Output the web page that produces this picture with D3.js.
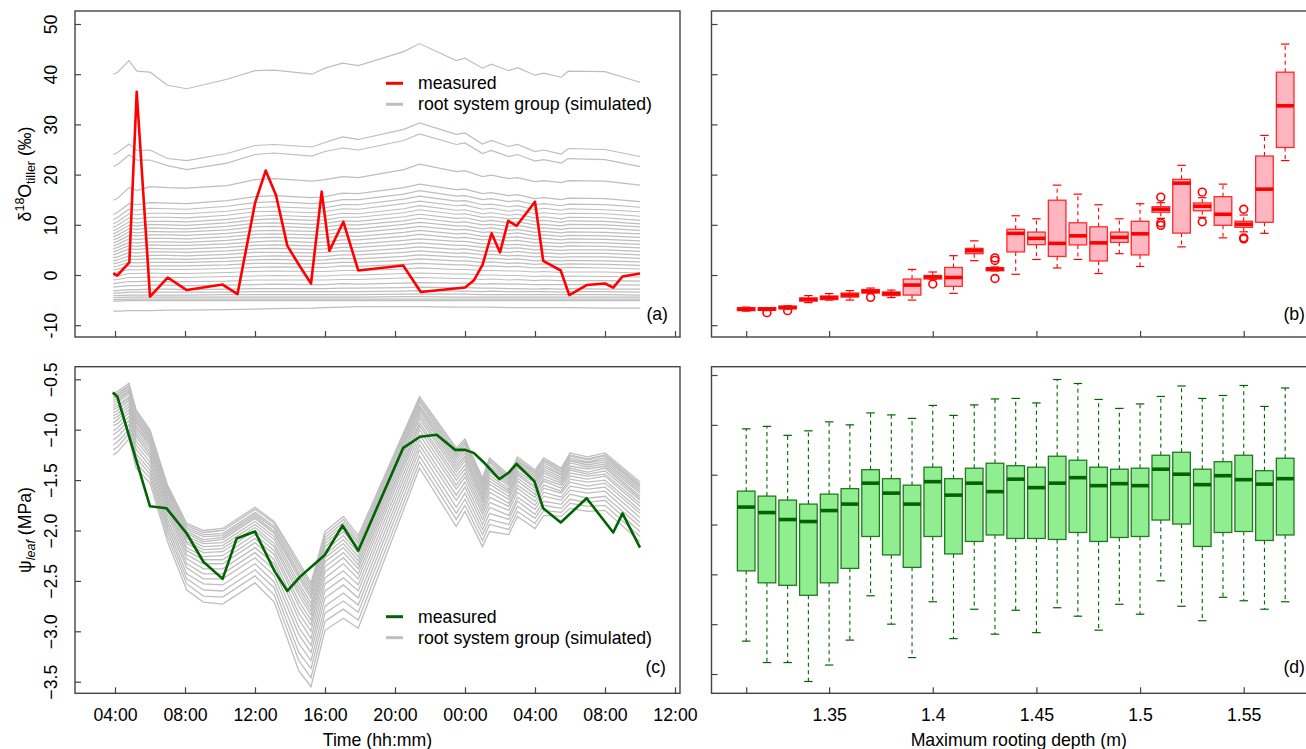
<!DOCTYPE html>
<html><head><meta charset="utf-8">
<script src="https://cdn.jsdelivr.net/npm/d3@7"></script>
<style>
body{margin:0;background:#fff;}
svg text{font-family:"Liberation Sans",Arial,Helvetica,sans-serif;fill:#000;}
</style></head><body>
<svg id="chart" width="1306" height="749"></svg>
<script>
// ---------------- DATA ----------------
const timeTicks = [4, 8, 12, 16, 20, 24, 28, 32, 36];
const timeTickLabels = ["04:00","08:00","12:00","16:00","20:00","00:00","04:00","08:00","12:00"];
const d18OTicks = [-10, 0, 10, 20, 30, 40, 50];
const psiTicks = [-3.5, -3, -2.5, -2, -1.5, -1, -0.5];
const psiTickLabels = ["\u22123.5","\u22123.0","\u22122.5","\u22122.0","\u22121.5","\u22121.0","\u22120.5"];
const depthTicks = [1.31, 1.35, 1.4, 1.45, 1.5, 1.55];
const depthTickLabels = ["", "1.35", "1.4", "1.45", "1.5", "1.55"];
const dPanelTicks = [0.2, 0.3, 0.4, 0.5, 0.6, 0.7, 0.8];

// (a) measured tiller d18O (hours since day-1 00:00)
const measuredTimeA = [3.9, 4.13, 4.82, 5.24, 6.0, 7.01, 8.1, 10.15, 11.0, 12.0, 12.61, 13.2, 13.85, 14.57, 15.2, 15.81, 16.25, 17.05, 17.9, 20.47, 21.47, 24.0, 24.5, 25.0, 25.52, 26.0, 26.47, 26.95, 28.0, 28.47, 29.47, 29.96, 30.95, 32.0, 32.47, 33.0, 34.0];
const measuredD18O = [0.3, -0.1, 2.5, 36.5, -4.3, -0.5, -3.0, -1.9, -3.8, 14.3, 20.8, 15.9, 5.8, 1.7, -1.7, 16.6, 4.8, 10.6, 0.9, 1.9, -3.4, -2.5, -1.1, 2.0, 8.3, 4.5, 10.8, 9.8, 14.6, 2.8, 0.9, -4.0, -2.0, -1.7, -2.5, -0.3, 0.3];

// (a) simulated root system groups
const simTimeA = [3.9, 4.15, 4.8, 5.25, 6, 7, 8.1, 10.4, 12, 13.1, 15.25, 16, 17, 17.9, 20.5, 21.4, 23.5, 24, 25, 25.5, 26.5, 27, 28, 28.5, 29.5, 29.9, 32, 34];
const simD18O = [
[40.0,40.4,42.7,40.6,40.4,37.8,37.1,39.0,40.7,40.8,40.0,41.2,42.2,41.7,44.5,46.1,42.7,43.2,41.2,42.0,40.7,41.3,39.8,40.2,39.4,40.6,40.5,38.4],
[24.0,24.4,26.1,24.8,24.9,23.2,22.8,24.2,25.8,26.0,25.5,26.4,27.5,27.0,29.0,30.3,28.0,28.3,26.1,26.8,25.6,26.0,24.6,24.9,24.1,25.2,25.0,23.6],
[21.6,22.0,23.9,22.9,22.9,21.8,21.0,22.3,24.0,24.3,23.7,24.6,25.3,24.9,26.8,28.1,26.0,26.3,24.2,24.8,23.6,24.0,22.7,23.0,22.3,23.2,23.0,21.6],
[14.9,15.3,17.4,16.8,17.6,17.4,17.3,17.8,19.0,19.2,18.7,19.0,19.6,19.4,21.0,22.1,20.6,20.8,19.6,19.9,19.2,19.4,18.6,18.8,18.4,18.8,18.7,17.9],
[12.0,12.5,14.2,14.0,14.4,14.3,14.2,14.8,15.6,15.8,15.4,15.6,16.3,16.2,17.4,18.1,17.0,17.1,16.2,16.4,15.8,16.0,15.2,15.4,15.0,15.3,15.2,14.6],
[11.0,11.5,13.1,12.9,13.3,13.2,13.1,13.7,14.4,14.6,14.2,14.4,15.0,15.0,16.1,16.8,15.7,15.8,15.0,15.2,14.6,14.8,14.0,14.2,13.8,14.1,14.0,13.5],
[10.2,10.6,12.2,12.0,12.3,12.3,12.2,12.7,13.4,13.6,13.3,13.4,14.0,14.0,15.1,15.7,14.7,14.8,14.0,14.1,13.6,13.8,13.0,13.3,12.9,13.2,13.0,12.6],
[9.5,9.9,11.4,11.2,11.5,11.5,11.4,11.9,12.6,12.7,12.4,12.6,13.2,13.1,14.2,14.7,13.8,13.9,13.1,13.3,12.7,13.0,12.2,12.4,12.1,12.3,12.2,11.7],
[8.8,9.2,10.6,10.4,10.7,10.7,10.6,11.1,11.7,11.9,11.6,11.7,12.3,12.2,13.2,13.8,12.9,13.0,12.2,12.4,11.9,12.1,11.4,11.6,11.2,11.5,11.4,10.9],
[8.2,8.6,9.9,9.8,10.1,10.0,9.9,10.4,11.0,11.2,10.9,11.0,11.5,11.5,12.4,13.0,12.1,12.2,11.5,11.6,11.2,11.3,10.7,10.9,10.5,10.8,10.7,10.2],
[7.6,8.0,9.2,9.1,9.4,9.3,9.2,9.7,10.3,10.4,10.1,10.3,10.8,10.7,11.6,12.1,11.3,11.4,10.7,10.9,10.4,10.6,10.0,10.1,9.8,10.1,10.0,9.6],
[7.0,7.3,8.6,8.4,8.7,8.6,8.6,9.0,9.6,9.7,9.4,9.6,10.0,10.0,10.8,11.3,10.5,10.6,10.0,10.1,9.7,9.9,9.3,9.4,9.1,9.3,9.3,8.9],
[6.4,6.7,7.9,7.8,8.0,8.0,7.9,8.3,8.8,8.9,8.7,8.8,9.3,9.2,10.1,10.5,9.8,9.8,9.2,9.4,8.9,9.1,8.5,8.7,8.4,8.6,8.5,8.2],
[5.8,6.1,7.2,7.1,7.3,7.3,7.2,7.6,8.1,8.2,8.0,8.1,8.5,8.5,9.3,9.7,9.0,9.1,8.5,8.6,8.2,8.4,7.8,8.0,7.7,7.9,7.8,7.5],
[5.2,5.5,6.5,6.4,6.6,6.6,6.5,6.9,7.4,7.5,7.3,7.4,7.8,7.7,8.5,8.9,8.2,8.3,7.7,7.8,7.5,7.6,7.1,7.3,7.0,7.2,7.1,6.8],
[4.6,4.9,5.9,5.7,6.0,5.9,5.9,6.2,6.6,6.8,6.5,6.6,7.0,7.0,7.7,8.1,7.4,7.5,7.0,7.1,6.8,6.9,6.4,6.5,6.3,6.5,6.4,6.1],
[4.0,4.3,5.2,5.1,5.3,5.2,5.2,5.5,5.9,6.0,5.8,5.9,6.3,6.2,6.9,7.2,6.7,6.7,6.2,6.3,6.0,6.1,5.7,5.8,5.6,5.8,5.7,5.4],
[3.4,3.6,4.5,4.4,4.6,4.6,4.5,4.8,5.2,5.3,5.1,5.2,5.5,5.5,6.1,6.4,5.9,5.9,5.5,5.6,5.3,5.4,5.0,5.1,4.9,5.0,5.0,4.7],
[2.8,3.0,3.8,3.7,3.9,3.9,3.8,4.1,4.5,4.5,4.4,4.5,4.8,4.7,5.3,5.6,5.1,5.2,4.7,4.8,4.5,4.7,4.3,4.4,4.2,4.3,4.3,4.0],
[2.2,2.4,3.1,3.1,3.2,3.2,3.1,3.4,3.7,3.8,3.7,3.7,4.0,4.0,4.5,4.8,4.3,4.4,4.0,4.1,3.8,3.9,3.6,3.7,3.5,3.6,3.6,3.3],
[1.6,1.8,2.5,2.4,2.5,2.5,2.5,2.7,3.0,3.1,2.9,3.0,3.3,3.2,3.7,4.0,3.6,3.6,3.2,3.3,3.1,3.2,2.8,2.9,2.8,2.9,2.8,2.6],
[1.0,1.2,1.8,1.7,1.8,1.8,1.8,2.0,2.3,2.3,2.2,2.3,2.5,2.5,2.9,3.2,2.8,2.8,2.5,2.6,2.3,2.4,2.1,2.2,2.1,2.2,2.1,1.9],
[0.4,0.6,1.1,1.0,1.2,1.1,1.1,1.3,1.5,1.6,1.5,1.5,1.8,1.7,2.1,2.3,2.0,2.0,1.7,1.8,1.6,1.7,1.4,1.5,1.4,1.5,1.4,1.2],
[-0.3,-0.2,0.3,0.3,0.4,0.3,0.3,0.5,0.7,0.8,0.7,0.7,0.9,0.9,1.2,1.4,1.1,1.1,0.9,0.9,0.8,0.8,0.6,0.7,0.5,0.6,0.6,0.4],
[-1.0,-0.9,-0.5,-0.5,-0.4,-0.5,-0.5,-0.3,-0.2,-0.1,-0.2,-0.2,0.0,0.0,0.3,0.4,0.2,0.2,0.0,0.0,-0.1,-0.1,-0.3,-0.2,-0.3,-0.2,-0.3,-0.4],
[-1.7,-1.6,-1.3,-1.3,-1.2,-1.3,-1.3,-1.2,-1.0,-1.0,-1.0,-1.0,-0.9,-0.9,-0.6,-0.5,-0.7,-0.7,-0.9,-0.8,-1.0,-0.9,-1.1,-1.0,-1.1,-1.1,-1.1,-1.2],
[-2.4,-2.3,-2.1,-2.1,-2.0,-2.0,-2.1,-2.0,-1.9,-1.8,-1.9,-1.9,-1.7,-1.8,-1.6,-1.5,-1.6,-1.6,-1.8,-1.7,-1.8,-1.8,-1.9,-1.9,-1.9,-1.9,-1.9,-2.0],
[-3.1,-3.1,-2.9,-2.9,-2.8,-2.8,-2.9,-2.8,-2.7,-2.7,-2.7,-2.7,-2.6,-2.6,-2.5,-2.4,-2.5,-2.5,-2.6,-2.6,-2.7,-2.7,-2.8,-2.7,-2.8,-2.7,-2.8,-2.8],
[-3.6,-3.6,-3.4,-3.4,-3.4,-3.4,-3.4,-3.4,-3.3,-3.3,-3.3,-3.3,-3.3,-3.3,-3.2,-3.1,-3.2,-3.2,-3.3,-3.2,-3.3,-3.3,-3.3,-3.3,-3.4,-3.3,-3.3,-3.4],
[-4.1,-4.1,-4.0,-4.0,-4.0,-4.0,-4.0,-3.9,-3.9,-3.9,-3.9,-3.9,-3.9,-3.9,-3.8,-3.8,-3.8,-3.8,-3.9,-3.9,-3.9,-3.9,-3.9,-3.9,-3.9,-3.9,-3.9,-4.0],
[-4.5,-4.5,-4.4,-4.4,-4.4,-4.4,-4.4,-4.4,-4.4,-4.4,-4.4,-4.4,-4.4,-4.4,-4.3,-4.3,-4.4,-4.4,-4.4,-4.4,-4.4,-4.4,-4.4,-4.4,-4.4,-4.4,-4.4,-4.4],
[-4.9,-4.9,-4.8,-4.8,-4.8,-4.8,-4.8,-4.8,-4.8,-4.8,-4.8,-4.8,-4.8,-4.8,-4.8,-4.8,-4.8,-4.8,-4.8,-4.8,-4.8,-4.8,-4.8,-4.8,-4.8,-4.8,-4.8,-4.8],
[-5.2,-5.2,-5.1,-5.1,-5.1,-5.1,-5.1,-5.1,-5.1,-5.1,-5.1,-5.1,-5.1,-5.1,-5.1,-5.1,-5.1,-5.1,-5.1,-5.1,-5.1,-5.1,-5.1,-5.1,-5.1,-5.1,-5.1,-5.1],
[-7.2,-7.2,-7.1,-7.1,-7.1,-7.0,-7.0,-6.9,-6.8,-6.7,-6.6,-6.5,-6.4,-6.3,-6.3,-6.3,-6.4,-6.4,-6.4,-6.4,-6.5,-6.5,-6.5,-6.5,-6.5,-6.5,-6.6,-6.6]
];

// (b) d18O by maximum rooting depth
const depths = [1.31,1.32,1.33,1.34,1.35,1.36,1.37,1.38,1.39,1.40,1.41,1.42,1.43,1.44,1.45,1.46,1.47,1.48,1.49,1.50,1.51,1.52,1.53,1.54,1.55,1.56,1.57];
const bLow  = [-7.2,-7.1,-6.8,-5.5,-5.0,-5.0,-3.7,-4.5,-5.0,-0.9,-3.65,2.85,0.8,0.15,3.1,1.4,3.1,0.3,4.25,1.7,11.3,5.6,11.5,7.4,8.6,8.3,22.8];
const bQ1   = [-7.1,-7.0,-6.7,-5.2,-4.9,-4.4,-3.6,-4.1,-4.0,-0.8,-2.25,4.25,0.85,4.6,6.05,3.7,6.0,2.8,6.5,4.0,12.5,8.35,12.8,9.9,9.5,10.5,25.4];
const bMed  = [-6.8,-6.8,-6.5,-4.85,-4.5,-4.0,-3.25,-3.7,-2.0,-0.4,-0.5,4.85,1.2,8.3,7.3,6.3,7.8,6.4,7.5,8.2,13.1,18.3,13.7,12.1,10.1,17.1,33.7];
const bQ3   = [-6.5,-6.5,-6.2,-4.6,-4.2,-3.6,-2.9,-3.4,-0.8,-0.1,1.5,5.3,1.45,9.1,8.55,14.9,10.4,9.6,8.55,10.7,13.6,19.05,14.35,15.6,10.7,23.7,40.4];
const bHigh = [-6.4,-6.5,-6.1,-4.1,-3.7,-3.1,-2.6,-3.0,1.1,0.6,3.85,6.8,1.6,11.8,11.2,17.9,16.1,14.0,11.2,14.2,14.4,21.85,15.4,18.1,11.95,27.8,46.0];
const bOutliers = [[],[-7.5],[-7.1],[],[],[],[-4.45],[],[],[-1.8],[],[],[3.4,2.9,-0.7],[],[],[],[],[],[],[],[15.5,10.4,9.9],[],[16.5,10.6],[],[13.1,7.4,7.2],[],[]];

// (c) measured leaf water potential (MPa)
const measuredTimeC = [3.87, 4.13, 6.0, 6.95, 8.1, 9.05, 10.15, 10.95, 12.0, 13.14, 13.85, 14.57, 16.0, 17.0, 17.9, 20.47, 21.43, 22.38, 23.43, 24.0, 24.5, 25.05, 25.96, 26.47, 26.95, 27.96, 28.47, 29.47, 30.95, 32.47, 33.0, 34.0];
const measuredPsi = [-0.63, -0.67, -1.76, -1.78, -2.03, -2.31, -2.48, -2.08, -2.01, -2.41, -2.60, -2.46, -2.24, -1.95, -2.20, -1.18, -1.07, -1.05, -1.20, -1.20, -1.23, -1.32, -1.49, -1.43, -1.34, -1.51, -1.78, -1.92, -1.68, -2.02, -1.83, -2.17];

// (c) simulated root system groups
const simTimeC = [3.9, 4.15, 4.8, 5.2, 6, 7, 8.1, 9.05, 10.15, 12, 13.1, 14.5, 15.2, 16, 17.05, 17.9, 21.4, 23.5, 24, 25, 25.4, 26.5, 27, 28, 28.5, 29.5, 30, 31, 32, 34];
const simPsi = [
[-0.64,-0.62,-0.54,-0.80,-1.00,-1.55,-1.93,-2.00,-1.98,-1.77,-1.91,-2.31,-2.52,-2.01,-1.86,-2.05,-0.67,-1.18,-1.09,-1.48,-1.28,-1.45,-1.27,-1.40,-1.28,-1.38,-1.23,-1.27,-1.23,-1.52],
[-0.66,-0.64,-0.56,-0.82,-1.02,-1.57,-1.95,-2.02,-2.00,-1.79,-1.93,-2.34,-2.55,-2.04,-1.89,-2.08,-0.69,-1.20,-1.11,-1.50,-1.30,-1.47,-1.29,-1.42,-1.30,-1.39,-1.25,-1.29,-1.25,-1.54],
[-0.68,-0.66,-0.57,-0.83,-1.03,-1.58,-1.97,-2.04,-2.03,-1.82,-1.96,-2.37,-2.58,-2.07,-1.92,-2.11,-0.71,-1.23,-1.13,-1.52,-1.32,-1.49,-1.31,-1.43,-1.31,-1.41,-1.26,-1.30,-1.26,-1.56],
[-0.69,-0.67,-0.59,-0.85,-1.05,-1.60,-1.99,-2.06,-2.05,-1.84,-1.98,-2.41,-2.61,-2.10,-1.95,-2.13,-0.73,-1.25,-1.15,-1.54,-1.35,-1.50,-1.32,-1.45,-1.33,-1.42,-1.28,-1.32,-1.28,-1.57],
[-0.71,-0.69,-0.61,-0.87,-1.06,-1.62,-2.01,-2.09,-2.07,-1.86,-2.01,-2.44,-2.64,-2.13,-1.98,-2.16,-0.76,-1.27,-1.18,-1.56,-1.37,-1.52,-1.34,-1.47,-1.35,-1.44,-1.30,-1.33,-1.30,-1.59],
[-0.73,-0.71,-0.62,-0.89,-1.08,-1.63,-2.03,-2.11,-2.09,-1.88,-2.03,-2.47,-2.67,-2.16,-2.01,-2.19,-0.78,-1.30,-1.20,-1.58,-1.39,-1.54,-1.36,-1.49,-1.37,-1.45,-1.31,-1.35,-1.32,-1.61],
[-0.76,-0.73,-0.64,-0.91,-1.10,-1.66,-2.06,-2.13,-2.12,-1.91,-2.06,-2.52,-2.72,-2.20,-2.05,-2.22,-0.80,-1.33,-1.23,-1.61,-1.42,-1.56,-1.38,-1.51,-1.39,-1.47,-1.33,-1.37,-1.34,-1.63],
[-0.78,-0.76,-0.67,-0.93,-1.12,-1.68,-2.08,-2.16,-2.15,-1.94,-2.09,-2.56,-2.76,-2.24,-2.09,-2.26,-0.83,-1.36,-1.26,-1.64,-1.45,-1.59,-1.41,-1.53,-1.41,-1.49,-1.36,-1.39,-1.36,-1.66],
[-0.80,-0.78,-0.69,-0.96,-1.14,-1.70,-2.11,-2.19,-2.18,-1.97,-2.13,-2.60,-2.80,-2.27,-2.13,-2.30,-0.86,-1.39,-1.28,-1.66,-1.48,-1.61,-1.43,-1.56,-1.43,-1.51,-1.38,-1.42,-1.38,-1.68],
[-0.83,-0.81,-0.71,-0.98,-1.16,-1.72,-2.13,-2.22,-2.21,-2.00,-2.16,-2.64,-2.84,-2.31,-2.17,-2.34,-0.89,-1.42,-1.31,-1.69,-1.51,-1.63,-1.45,-1.58,-1.46,-1.53,-1.40,-1.44,-1.41,-1.70],
[-0.86,-0.84,-0.74,-1.01,-1.19,-1.75,-2.17,-2.26,-2.25,-2.04,-2.20,-2.70,-2.89,-2.36,-2.22,-2.38,-0.93,-1.46,-1.35,-1.72,-1.54,-1.66,-1.48,-1.61,-1.49,-1.55,-1.43,-1.46,-1.44,-1.73],
[-0.89,-0.87,-0.77,-1.04,-1.22,-1.78,-2.20,-2.29,-2.29,-2.08,-2.24,-2.75,-2.94,-2.41,-2.27,-2.43,-0.96,-1.50,-1.39,-1.76,-1.58,-1.69,-1.51,-1.64,-1.51,-1.58,-1.46,-1.49,-1.46,-1.76],
[-0.93,-0.90,-0.80,-1.07,-1.25,-1.81,-2.24,-2.33,-2.33,-2.12,-2.29,-2.82,-3.00,-2.47,-2.33,-2.48,-1.00,-1.55,-1.43,-1.80,-1.62,-1.73,-1.55,-1.67,-1.55,-1.61,-1.49,-1.52,-1.50,-1.80],
[-0.96,-0.94,-0.83,-1.11,-1.28,-1.85,-2.28,-2.38,-2.38,-2.17,-2.33,-2.88,-3.07,-2.53,-2.40,-2.54,-1.05,-1.59,-1.47,-1.84,-1.67,-1.76,-1.58,-1.71,-1.58,-1.63,-1.52,-1.56,-1.53,-1.83],
[-1.01,-0.98,-0.87,-1.15,-1.32,-1.89,-2.33,-2.43,-2.43,-2.22,-2.39,-2.96,-3.14,-2.60,-2.47,-2.60,-1.10,-1.65,-1.52,-1.89,-1.72,-1.80,-1.62,-1.75,-1.62,-1.67,-1.56,-1.59,-1.57,-1.87],
[-1.05,-1.02,-0.91,-1.19,-1.36,-1.93,-2.37,-2.48,-2.48,-2.27,-2.45,-3.03,-3.21,-2.67,-2.54,-2.67,-1.15,-1.70,-1.57,-1.94,-1.77,-1.85,-1.67,-1.79,-1.66,-1.70,-1.60,-1.63,-1.61,-1.92],
[-1.10,-1.07,-0.95,-1.24,-1.40,-1.97,-2.43,-2.53,-2.54,-2.33,-2.51,-3.12,-3.29,-2.75,-2.62,-2.74,-1.20,-1.77,-1.63,-1.99,-1.83,-1.89,-1.71,-1.84,-1.71,-1.74,-1.64,-1.68,-1.66,-1.96],
[-1.15,-1.12,-1.00,-1.28,-1.44,-2.01,-2.48,-2.59,-2.60,-2.39,-2.57,-3.21,-3.37,-2.82,-2.70,-2.81,-1.26,-1.83,-1.69,-2.04,-1.89,-1.94,-1.76,-1.88,-1.75,-1.78,-1.69,-1.72,-1.70,-2.01],
[-1.20,-1.17,-1.04,-1.33,-1.48,-2.06,-2.53,-2.65,-2.66,-2.45,-2.64,-3.29,-3.46,-2.90,-2.78,-2.89,-1.32,-1.89,-1.75,-2.10,-1.94,-1.99,-1.81,-1.93,-1.80,-1.82,-1.73,-1.76,-1.75,-2.06],
[-1.25,-1.22,-1.09,-1.38,-1.53,-2.11,-2.59,-2.71,-2.73,-2.52,-2.71,-3.39,-3.55,-2.99,-2.87,-2.97,-1.38,-1.96,-1.81,-2.16,-2.01,-2.04,-1.86,-1.98,-1.85,-1.86,-1.78,-1.81,-1.80,-2.11]
];

// (d) box statistics by maximum rooting depth
const dLow  = [0.266,0.223,0.223,0.185,0.218,0.268,0.357,0.300,0.233,0.345,0.271,0.330,0.280,0.328,0.283,0.333,0.316,0.288,0.340,0.320,0.387,0.336,0.307,0.354,0.347,0.330,0.345];
const dQ1   = [0.407,0.383,0.378,0.358,0.383,0.412,0.476,0.439,0.414,0.476,0.441,0.466,0.479,0.472,0.472,0.470,0.484,0.466,0.474,0.476,0.509,0.501,0.456,0.484,0.486,0.468,0.479];
const dMed  = [0.535,0.524,0.510,0.506,0.528,0.541,0.583,0.563,0.541,0.586,0.559,0.583,0.566,0.591,0.574,0.583,0.594,0.578,0.582,0.578,0.611,0.601,0.580,0.598,0.590,0.581,0.592];
const dQ3   = [0.567,0.557,0.549,0.541,0.561,0.572,0.610,0.592,0.579,0.615,0.592,0.613,0.623,0.618,0.615,0.637,0.629,0.615,0.611,0.613,0.639,0.645,0.611,0.626,0.639,0.608,0.633];
const dHigh = [0.692,0.697,0.679,0.688,0.706,0.700,0.724,0.720,0.713,0.739,0.719,0.740,0.752,0.753,0.744,0.791,0.783,0.751,0.733,0.742,0.757,0.778,0.753,0.759,0.779,0.737,0.774];

// ---------------- LAYOUT ----------------
const svg = d3.select("#chart");
const FS = 17.7;
const P = {
  a: {x0: 75, x1: 680, y0: 11, y1: 337},
  b: {x0: 711.5, x1: 1326, y0: 11, y1: 337},
  c: {x0: 75, x1: 680, y0: 366.7, y1: 693.3},
  d: {x0: 711.5, x1: 1326, y0: 366.7, y1: 693.3}
};
const xTime = d3.scaleLinear().domain([1.714, 36.286]).range([P.a.x0, P.a.x1]);
const yD18O = d3.scaleLinear().domain([-12.35, 52.59]).range([P.a.y1, P.a.y0]);
const yPsi = d3.scaleLinear().domain([-3.615, -0.375]).range([P.c.y1, P.c.y0]);
const xDepth = d3.scaleLinear().domain([1.29326, 1.58969]).range([P.b.x0, P.b.x1]);
const yDPanel = d3.scaleLinear().domain([0.1613, 0.8167]).range([P.d.y1, P.d.y0]);

const AXC = "#444";
function styleAxis(g){
  g.select(".domain").remove();
  g.selectAll(".tick line").attr("stroke", AXC).attr("stroke-width", 1.2);
  g.selectAll(".tick text").attr("font-size", FS).attr("fill", "#000");
}
function leftAxis(panel, scale, ticks, labels){
  const ax = d3.axisLeft(scale).tickValues(ticks).tickSizeInner(-6).tickSizeOuter(0)
    .tickFormat(labels ? ((d,i)=>labels[i]) : "");
  const g = svg.append("g").attr("transform", `translate(${panel.x0},0)`).call(ax);
  styleAxis(g);
  g.selectAll(".tick text").attr("transform","rotate(-90)").attr("x",0).attr("y",-18)
    .attr("dy",0).attr("text-anchor","middle");
  return g;
}
function bottomAxis(panel, scale, ticks, labels){
  const ax = d3.axisBottom(scale).tickValues(ticks).tickSizeInner(-6).tickSizeOuter(0).tickPadding(15.5)
    .tickFormat(labels ? ((d,i)=>labels[i]) : "");
  const g = svg.append("g").attr("transform", `translate(0,${panel.y1})`).call(ax);
  styleAxis(g);
  return g;
}
function frame(panel){
  svg.append("rect").attr("x", panel.x0).attr("y", panel.y0)
    .attr("width", panel.x1 - panel.x0).attr("height", panel.y1 - panel.y0)
    .attr("fill","none").attr("stroke", AXC).attr("stroke-width", 1.4);
}
function panelLabel(x, y, txt){
  svg.append("text").attr("x", x).attr("y", y).attr("text-anchor","end").attr("font-size", FS).text(txt);
}

// clip paths
const defs = svg.append("defs");
["a","c"].forEach(k=>{
  defs.append("clipPath").attr("id","clip-"+k).append("rect")
    .attr("x",P[k].x0).attr("y",P[k].y0).attr("width",P[k].x1-P[k].x0).attr("height",P[k].y1-P[k].y0);
});

// ---------------- PANEL (a) ----------------
const lineA = d3.line().x(d=>xTime(d[0])).y(d=>yD18O(d[1]));
const gA = svg.append("g").attr("clip-path","url(#clip-a)");
simD18O.forEach(vals=>{
  gA.append("path").attr("d", lineA(d3.zip(simTimeA, vals)))
    .attr("fill","none").attr("stroke","#bebebe").attr("stroke-width",1.2);
});
gA.append("path").attr("d", lineA(d3.zip(measuredTimeA, measuredD18O)))
  .attr("fill","none").attr("stroke","#ff0000").attr("stroke-width",2.6).attr("stroke-linejoin","round");
leftAxis(P.a, yD18O, d18OTicks, d18OTicks.map(String));
bottomAxis(P.a, xTime, timeTicks, null);
frame(P.a);
panelLabel(P.a.x1 - 12, 320, "(a)");

// legends
function legend(x, y, color){
  svg.append("line").attr("x1",x).attr("x2",x+17).attr("y1",y).attr("y2",y)
    .attr("stroke",color).attr("stroke-width",3);
  svg.append("line").attr("x1",x).attr("x2",x+17).attr("y1",y+21).attr("y2",y+21)
    .attr("stroke","#bebebe").attr("stroke-width",3);
  svg.append("text").attr("x",x+32).attr("y",y+6).attr("font-size",FS).text("measured");
  svg.append("text").attr("x",x+32).attr("y",y+27).attr("font-size",FS).text("root system group (simulated)");
}
legend(386, 83.3, "#ff0000");

// y title (a)
const tA = svg.append("text").attr("transform",`translate(31,${(P.a.y0+P.a.y1)/2}) rotate(-90)`)
  .attr("text-anchor","middle").attr("font-size",FS);
tA.append("tspan").text("\u03b4");
tA.append("tspan").attr("font-size",12.5).attr("dy",-7).text("18");
tA.append("tspan").attr("dy",7).text("O");
tA.append("tspan").attr("font-size",12.5).attr("dy",4).text("tiller");
tA.append("tspan").attr("dy",-4).text(" (\u2030)");

// ---------------- PANEL (c) ----------------
const lineC = d3.line().x(d=>xTime(d[0])).y(d=>yPsi(d[1]));
const gC = svg.append("g").attr("clip-path","url(#clip-c)");
simPsi.forEach(vals=>{
  gC.append("path").attr("d", lineC(d3.zip(simTimeC, vals)))
    .attr("fill","none").attr("stroke","#bebebe").attr("stroke-width",1.3);
});
gC.append("path").attr("d", lineC(d3.zip(measuredTimeC, measuredPsi)))
  .attr("fill","none").attr("stroke","#006400").attr("stroke-width",2.6).attr("stroke-linejoin","round");
leftAxis(P.c, yPsi, psiTicks, psiTickLabels);
bottomAxis(P.c, xTime, timeTicks, timeTickLabels);
frame(P.c);
panelLabel(P.c.x1 - 14, 673, "(c)");
legend(386, 616.7, "#006400");

const tC = svg.append("text").attr("transform",`translate(31,${(P.c.y0+P.c.y1)/2}) rotate(-90)`)
  .attr("text-anchor","middle").attr("font-size",FS);
tC.append("tspan").text("\u03c8");
tC.append("tspan").attr("font-size",12.5).attr("font-style","italic").attr("dy",4).text("leaf");
tC.append("tspan").attr("dy",-4).text(" (MPa)");

svg.append("text").attr("x",(P.c.x0+P.c.x1)/2).attr("y",746).attr("text-anchor","middle")
  .attr("font-size",FS).text("Time (hh:mm)");

// ---------------- BOXPLOTS ----------------
function boxplots(yScale, lo, q1, med, q3, hi, outs, col){
  const g = svg.append("g");
  const hw = (xDepth(1.31 + 0.0085) - xDepth(1.31)) / 2; // half box width
  const sw = hw * 0.48;
  depths.forEach((dp, i)=>{
    const x = xDepth(dp);
    [[q3[i], hi[i]], [q1[i], lo[i]]].forEach(([a,b])=>{
      g.append("line").attr("x1",x).attr("x2",x).attr("y1",yScale(a)).attr("y2",yScale(b))
        .attr("stroke",col.line).attr("stroke-width",1.1).attr("stroke-dasharray","4,3.5");
      g.append("line").attr("x1",x-sw).attr("x2",x+sw).attr("y1",yScale(b)).attr("y2",yScale(b))
        .attr("stroke",col.line).attr("stroke-width",1.2);
    });
    g.append("rect").attr("x",x-hw).attr("width",2*hw)
      .attr("y",yScale(q3[i])).attr("height",Math.max(1,yScale(q1[i])-yScale(q3[i])))
      .attr("fill",col.fill).attr("stroke",col.border).attr("stroke-width",1.3);
    g.append("line").attr("x1",x-hw).attr("x2",x+hw).attr("y1",yScale(med[i])).attr("y2",yScale(med[i]))
      .attr("stroke",col.med).attr("stroke-width",3.6);
    if (outs) outs[i].forEach(v=>{
      g.append("circle").attr("cx",x).attr("cy",yScale(v)).attr("r",3.9)
        .attr("fill","none").attr("stroke",col.line).attr("stroke-width",1.6);
    });
  });
}

// (b)
boxplots(yD18O, bLow, bQ1, bMed, bQ3, bHigh, bOutliers,
  {fill:"#ffb6c1", border:"#ff2a2a", line:"#ff0000", med:"#ff0000"});
leftAxis(P.b, yD18O, d18OTicks, null);
bottomAxis(P.b, xDepth, depthTicks, null);
frame(P.b);
panelLabel(1305, 320, "(b)");

// (d)
boxplots(yDPanel, dLow, dQ1, dMed, dQ3, dHigh, null,
  {fill:"#90ee90", border:"#1f7a1f", line:"#006400", med:"#006400"});
leftAxis(P.d, yDPanel, dPanelTicks, null);
bottomAxis(P.d, xDepth, depthTicks, depthTickLabels);
frame(P.d);
panelLabel(1305, 673, "(d)");

svg.append("text").attr("x",(P.d.x0+P.d.x1)/2).attr("y",746).attr("text-anchor","middle")
  .attr("font-size",FS).text("Maximum rooting depth (m)");
</script>
</body></html>
